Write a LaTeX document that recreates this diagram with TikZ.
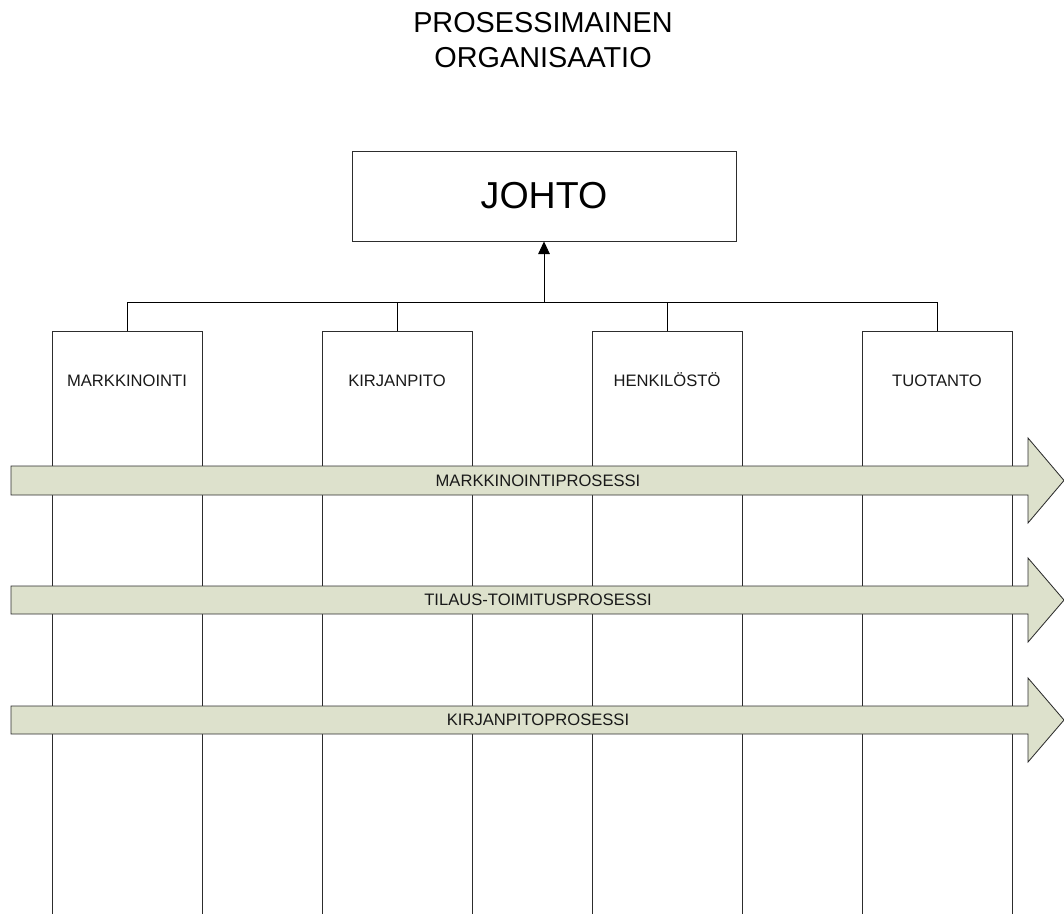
\documentclass[tikz,border=0pt]{standalone}
\usepackage{fontspec}
\setmainfont{Liberation Sans}
\usetikzlibrary{calc, arrows.meta}
\definecolor{procfill}{RGB}{221,225,204}
\definecolor{linegray}{RGB}{45,45,45}
\tikzset{
column/.style={draw=linegray, line width=0.6pt, anchor=north, minimum width=3.75cm, minimum height=15cm, inner sep=0pt}, % tall open columns
colname/.style={font=\fontsize{11.8}{14}\selectfont, text=black!90, anchor=base},
boss/.style={draw=linegray, line width=0.6pt, minimum width=9.6cm, minimum height=2.25cm, font=\fontsize{26.7}{30}\selectfont},
process/.style={draw=linegray, fill=procfill, line width=0.6pt},
proclabel/.style={font=\fontsize{11.8}{14}\selectfont, text=black!90},
link/.style={draw=black, line width=0.6pt},
}

\begin{document}
\begin{tikzpicture}[x=0.025cm, y=-0.025cm]
    \useasboundingbox (0,0) rectangle (1064,913);
    \clip (0,0) rectangle (1064,913);
    \node[font=\fontsize{20.5}{24.8}\selectfont, align=center] (title) at (543,40) {PROSESSIMAINEN\\ORGANISAATIO};
    \node[boss] (johto) at (544,196) {JOHTO};
    % the four departments
    \node[column] (mark) at (127,331) {};
    \node[column] (kirj) at (397,331) {};
    \node[column] (henk) at (667,331) {};
    \node[column] (tuot) at (937,331) {};
    \node[colname] (markname) at ($(mark.north)+(0,55)$) {MARKKINOINTI};
    \node[colname] (kirjname) at ($(kirj.north)+(0,55)$) {KIRJANPITO};
    \node[colname] (henkname) at ($(henk.north)+(0,55)$) {HENKILÖSTÖ};
    \node[colname] (tuotname) at ($(tuot.north)+(0,55)$) {TUOTANTO};
    \coordinate (bus) at (544,302);
    \draw[link] (mark.north) -- ($(mark.north)+(0,-29)$) -| (tuot.north);
    \draw[link] (kirj.north) -- (kirj.north |- bus);
    \draw[link] (henk.north) -- (henk.north |- bus);
    \draw[link, -{Triangle[length=12pt*0.75, width=11pt*0.75]}] (bus) -- (johto.south);
    % processes across the departments
    \draw[process] (11,466) -- (1028,466) -- (1028,438) -- (1064,480.5) -- (1028,523) -- (1028,495) -- (11,495) -- cycle;
    \node[proclabel] (mproc) at (538,480.5) {MARKKINOINTIPROSESSI};
    \draw[process] (11,586) -- (1028,586) -- (1028,558) -- (1064,600) -- (1028,642) -- (1028,614) -- (11,614) -- cycle;
    \node[proclabel] (tproc) at (538,600) {TILAUS-TOIMITUSPROSESSI};
    \draw[process] (11,706) -- (1028,706) -- (1028,678) -- (1064,720) -- (1028,762) -- (1028,734) -- (11,734) -- cycle;
    \node[proclabel] (kproc) at (538,720) {KIRJANPITOPROSESSI};
\end{tikzpicture}
\end{document}
